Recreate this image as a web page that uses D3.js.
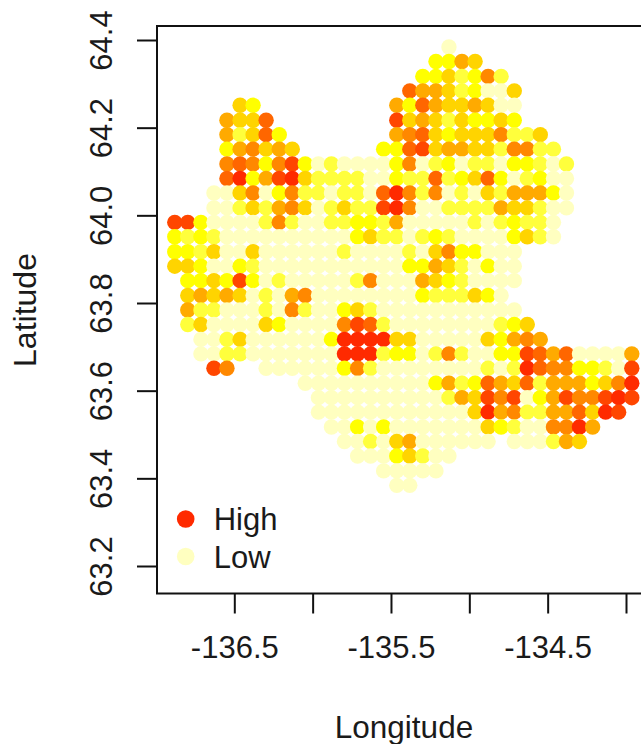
<!DOCTYPE html>
<html>
<head>
<meta charset="utf-8">
<script src="https://cdnjs.cloudflare.com/ajax/libs/d3/7.8.5/d3.min.js"></script>
<style>
  html, body { margin: 0; padding: 0; background: #fff; }
  svg { display: block; }
  text { font-family: "Liberation Sans", Arial, sans-serif; fill: #1a1a1a; }
</style>
</head>
<body>
<svg id="map" width="641" height="744"></svg>
<script>
// grid of the map
var lons = [-136.880, -136.797, -136.713, -136.630, -136.547, -136.463, -136.380, -136.297, -136.213,
  -136.130, -136.047, -135.963, -135.880, -135.797, -135.713, -135.630, -135.547, -135.463,
  -135.380, -135.297, -135.213, -135.130, -135.047, -134.963, -134.880, -134.797, -134.713,
  -134.630, -134.547, -134.463, -134.380, -134.297, -134.213, -134.130, -134.047, -133.963];
var lats = [64.384, 64.351, 64.317, 64.284, 64.251, 64.217, 64.184, 64.151, 64.117, 64.084, 64.051,
  64.017, 63.984, 63.951, 63.917, 63.884, 63.851, 63.817, 63.784, 63.751, 63.717, 63.684,
  63.651, 63.617, 63.584, 63.551, 63.517, 63.484, 63.451, 63.417, 63.384];

// index in lons of the first value of each row
var rowStart = [21, 20, 19, 18, 5, 4, 4, 4, 4, 4, 3, 3, 0, 0, 0, 0, 1, 1, 1, 1, 2, 2, 3, 10, 11, 11, 12, 13, 14, 16, 17];

// 0 = low ... 8 = high, _ = no cell
var _ = null;
var levels = [
  [0],
  [2,2,4,3],
  [2,2,3,1,2,5,1],
  [6,4,4,3,1,2,0,0,3],
  [3,2,_,_,_,_,_,_,_,_,_,_,4,2,6,4,3,3,4,3,0,0],
  [4,3,3,6,_,_,_,_,_,_,_,_,_,7,3,4,3,1,3,2,2,3,2],
  [4,1,3,6,2,_,_,_,_,_,_,_,_,4,5,6,3,2,3,3,3,5,1,1,3],
  [2,4,5,3,4,3,_,_,_,_,_,_,2,2,6,7,3,4,4,3,3,1,5,5,1,1],
  [5,6,5,2,5,7,2,0,1,0,0,0,0,2,5,0,1,2,0,1,1,0,2,2,1,0,1],
  [6,8,2,4,7,8,3,1,1,1,1,0,0,2,1,1,6,1,2,3,6,2,0,1,2,0,0],
  [0,0,3,5,0,2,5,1,1,0,1,1,0,6,8,5,1,5,0,1,0,3,1,4,4,4,2,0],
  [0,0,1,3,1,4,5,3,0,1,3,1,1,7,8,5,0,0,1,1,1,1,4,3,3,1,0,0],
  [7,7,2,0,0,0,0,1,5,1,0,0,1,1,2,2,1,4,0,0,0,0,0,1,0,1,2,1,1,0],
  [2,1,2,1,0,0,0,0,0,0,0,0,0,0,2,3,1,1,0,1,2,1,0,0,0,0,2,3,1,0],
  [2,2,1,3,0,0,3,0,0,0,0,0,0,1,0,0,0,0,1,0,3,5,2,2,0,0,0],
  [3,3,2,0,0,2,1,0,0,0,0,0,0,0,0,0,0,0,2,2,4,3,1,0,2,0,0],
  [2,2,3,2,7,2,0,1,0,0,0,0,0,1,5,0,0,0,4,3,2,1,0,0,0,0],
  [3,4,3,4,3,0,1,0,4,5,0,0,0,0,0,0,0,0,2,1,1,1,3,2,0],
  [4,1,1,0,0,0,1,0,5,1,0,0,2,3,1,0,0,0,0,0,0,0,0,0,0,0],
  [1,3,0,0,0,0,3,2,0,0,0,0,5,7,6,1,0,0,0,0,0,0,0,0,1,2,3],
  [0,0,1,3,0,0,0,0,0,0,2,8,8,8,8,3,3,0,0,0,0,0,3,2,4,5,4],
  [0,0,1,1,0,0,0,0,0,0,0,8,8,8,1,2,2,0,1,5,1,0,0,2,2,7,6,4,6,0,0,0,0,4],
  [7,5,_,_,0,0,0,0,0,0,2,5,1,0,0,0,0,0,0,0,0,1,0,1,8,6,5,5,2,2,1,0,7],
  [0,0,0,0,0,0,0,0,0,0,2,4,1,2,6,4,3,6,1,4,4,4,2,3,5,8],
  [0,0,0,0,0,0,0,0,0,0,1,4,3,7,5,7,0,2,4,7,5,5,7,8,7],
  [0,0,0,0,0,0,0,0,0,0,0,0,3,8,4,5,1,1,4,4,6,3,8,7],
  [0,0,2,0,2,0,0,0,0,0,0,0,3,2,1,0,0,5,5,8,4],
  [0,0,1,0,3,4,0,0,0,0,0,0,_,0,0,0,1,4,3],
  [0,0,0,2,3,1,0,0],
  [0,0,0,0,0],
  [0,0]
];

var levelColors = ["#FFFFC0", "#FFFF3C", "#FFFF00", "#FFD400", "#FFAA00", "#FF8800", "#FF6600", "#FF4600", "#FF2A00"];

var xTicks = [-136.5, -136, -135.5, -135, -134.5, -134];
var xLabels = [-136.5, -135.5, -134.5];
var yTicks = [63.2, 63.4, 63.6, 63.8, 64.0, 64.2, 64.4];
var legendNames = ["High", "Low"];
var legendLevels = [8, 0];

var svg = d3.select("#map");

// scales
var xScale = d3.scaleLinear().domain([-136.5, -134]).range([234.3, 626]);
var yScale = d3.scaleLinear().domain([63.2, 64.4]).range([566, 40]);
var colorScale = d3.scaleOrdinal().domain(d3.range(levelColors.length)).range(levelColors);

// row/column table -> points, left to right so the right neighbour sits on top
var points = [];
levels.forEach(function (row, j) {
  row.forEach(function (level, i) {
    if (level !== null) {
      points.push({ lon: lons[rowStart[j] + i], lat: lats[j], level: level });
    }
  });
});

svg.selectAll(".cell")
  .data(points)
  .enter().append("circle")
  .attr("class", "cell")
  .attr("cx", d => xScale(d.lon))
  .attr("cy", d => yScale(d.lat))
  .attr("r", 7.7)
  .attr("fill", d => colorScale(d.level));

// box, runs off the right edge of the picture
svg.append("rect")
  .attr("x", 157)
  .attr("y", 26)
  .attr("width", 520)
  .attr("height", 567.5)
  .attr("fill", "none")
  .attr("stroke", "#111")
  .attr("stroke-width", 2);

// x axis
var xAxis = d3.axisBottom(xScale)
  .tickValues(xTicks)
  .tickSize(20)
  .tickPadding(22)
  .tickFormat(d => xLabels.indexOf(d) >= 0 ? d.toFixed(1) : "");
var xG = svg.append("g")
  .attr("class", "bottom axis")
  .attr("transform", "translate(0,593.5)")
  .call(xAxis);
xG.select(".domain").remove();
xG.selectAll("line").attr("stroke", "#111").attr("stroke-width", 2);
xG.selectAll("text").attr("font-size", "31px").attr("font-family", null);

// y axis, labels turned like R does
var yAxis = d3.axisLeft(yScale)
  .tickValues(yTicks)
  .tickSize(20)
  .tickFormat(d => d.toFixed(1));
var yG = svg.append("g")
  .attr("class", "left axis")
  .attr("transform", "translate(157,0)")
  .call(yAxis);
yG.select(".domain").remove();
yG.selectAll("line").attr("stroke", "#111").attr("stroke-width", 2);
yG.selectAll("text")
  .attr("font-size", "31px")
  .attr("font-family", null)
  .attr("x", 0)
  .attr("y", 0)
  .attr("dy", null)
  .attr("text-anchor", "middle")
  .attr("transform", "translate(-45,0) rotate(-90)");

// axis labels
svg.append("text")
  .attr("x", 404)
  .attr("y", 738)
  .attr("font-size", "31.5px")
  .attr("text-anchor", "middle")
  .text("Longitude");

svg.append("text")
  .attr("transform", "translate(36,310) rotate(-90)")
  .attr("font-size", "32px")
  .attr("text-anchor", "middle")
  .text("Latitude");

// legend
var legendY = d3.scalePoint().domain(legendNames).range([519, 556.5]);
var legend = svg.selectAll(".legend")
  .data(legendNames)
  .enter().append("g")
  .attr("class", "legend")
  .attr("transform", d => "translate(185.7," + legendY(d) + ")");
legend.append("circle")
  .attr("r", 8.8)
  .attr("fill", (d, i) => colorScale(legendLevels[i]));
legend.append("text")
  .attr("x", 28)
  .attr("y", 11)
  .attr("font-size", "31px")
  .text(d => d);
</script>
</body>
</html>
